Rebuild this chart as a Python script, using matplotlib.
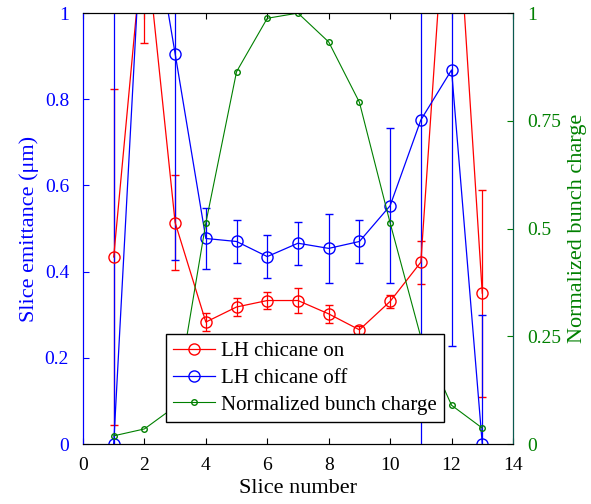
import numpy as np
from matplotlib import pyplot as plt

plt.rcParams['font.family'] = ['Liberation Serif', 'DejaVu Serif']

#%% Datos
slices = [1, 2, 3, 4, 5, 6, 7, 8, 9, 10, 11, 12, 13]

emit_on = [0.434, 1.2, 0.514, 0.283, 0.318, 0.333, 0.333, 0.302, 0.265, 0.331, 0.422, 1.47, 0.35]
err_on = [0.39, 0.27, 0.11, 0.02, 0.02, 0.02, 0.03, 0.02, 0.01, 0.015, 0.05, 0.2, 0.24]

emit_off = [0.0, 1.33, 0.906, 0.477, 0.47, 0.435, 0.466, 0.454, 0.47, 0.553, 0.752, 0.868, 0.0]
err_off = [1.5, 0.2, 0.48, 0.07, 0.05, 0.05, 0.05, 0.08, 0.05, 0.18, 1.2, 0.64, 0.3]

carga = [0.019, 0.035, 0.087, 0.513, 0.864, 0.988, 1.0, 0.933, 0.793, 0.513, 0.248, 0.09, 0.037]

xticks = [0, 2, 4, 6, 8, 10, 12, 14]
yticks_izq = [0, 0.2, 0.4, 0.6, 0.8, 1]
yticks_der = [0, 0.25, 0.5, 0.75, 1]

#%% Grafico
fig = plt.figure(figsize=(5.91, 5.04), dpi=100)
ax = fig.add_axes([0.1404, 0.119, 0.7276, 0.855])

azul = '#0000ff'
rojo = '#ff0000'
verde = '#008000'

l_on = ax.errorbar(slices, emit_on, yerr=err_on, color=rojo, marker='o', mfc='none',
                   ms=8, lw=0.9, elinewidth=0.9, capsize=3)
l_off = ax.errorbar(slices, emit_off, yerr=err_off, color=azul, marker='o', mfc='none',
                    ms=8, lw=0.9, elinewidth=0.9, capsize=3)

ax.set_xlim(0, 14)
ax.set_ylim(0, 1)
ax.set_xticks(xticks)
ax.set_xticklabels([str(t) for t in xticks])
ax.set_yticks(yticks_izq)
ax.set_yticklabels(['0', '0.2', '0.4', '0.6', '0.8', '1'])
ax.tick_params(axis='both', direction='in', labelsize=14, top=True, right=True, length=4)
ax.tick_params(axis='x', pad=9)
ax.tick_params(axis='y', colors=azul, labelcolor=azul, pad=10)
ax.spines['left'].set_color(azul)
ax.set_xlabel('Slice number', fontsize=16, labelpad=4)
ax.set_ylabel('Slice emittance (μm)', fontsize=16, color=azul, labelpad=4)

ax2 = ax.twinx()
l_q, = ax2.plot(slices, carga, color=verde, marker='o', mfc='none', ms=4, lw=0.8)
ax2.set_ylim(0, 1)
ax2.set_yticks(yticks_der)
ax2.set_yticklabels(['0', '0.25', '0.5', '0.75', '1'])
ax2.tick_params(axis='y', direction='in', labelsize=14, colors=verde, length=4, pad=10)
ax2.spines['right'].set_color('#0a5a50')
ax2.spines['left'].set_color(azul)
ax2.set_ylabel('Normalized bunch charge', fontsize=16, color=verde, labelpad=5)

leg = ax2.legend([l_on[0], l_off[0], l_q], ['LH chicane on', 'LH chicane off', 'Normalized bunch charge'],
                 loc='lower left', bbox_to_anchor=(0.193, 0.051), fontsize=15, fancybox=False,
                 framealpha=1, edgecolor='black', borderpad=0.35, labelspacing=0.35,
                 handlelength=2.0, handletextpad=0.3, borderaxespad=0)
leg.get_frame().set_linewidth(1.0)

plt.savefig('out.png', dpi=100)
